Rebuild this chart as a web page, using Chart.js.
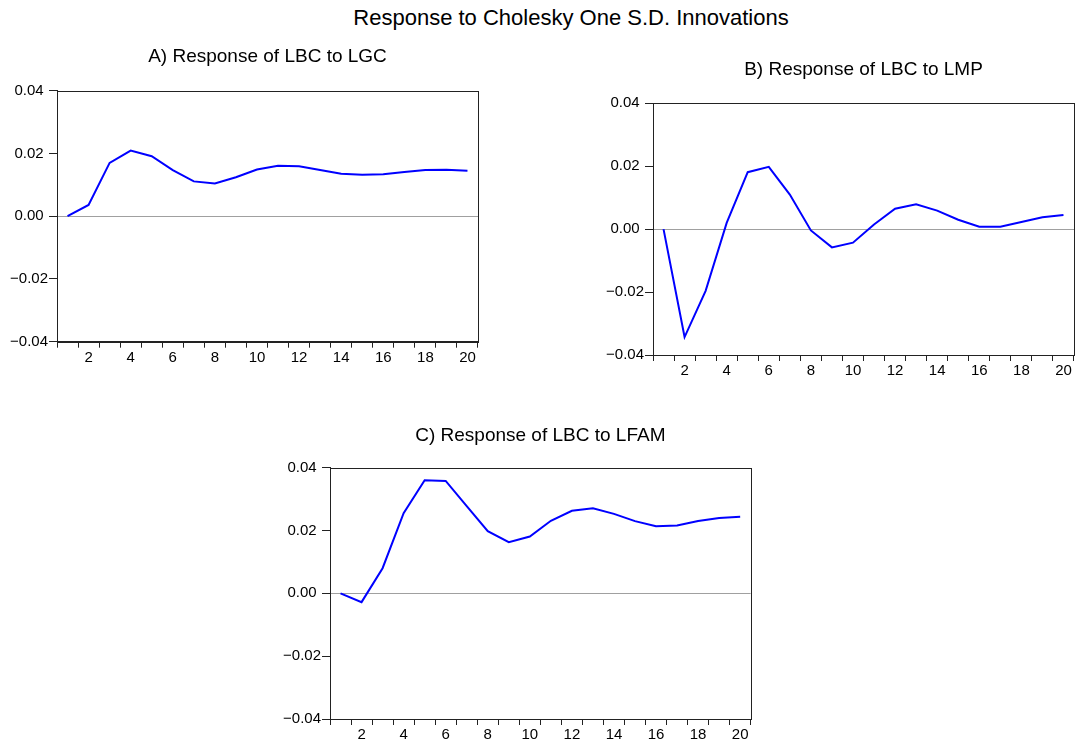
<!DOCTYPE html>
<html>
<head>
<meta charset="utf-8">
<script src="https://cdn.jsdelivr.net/npm/chart.js@4/dist/chart.umd.min.js"></script>
<style>
  html, body { margin: 0; padding: 0; background: #fff; }
  body { width: 1077px; height: 744px; position: relative; overflow: hidden; }
  #mainTitle {
    position: absolute; left: 0; top: 5px; width: 1142px; text-align: center;
    font: 22px "Liberation Sans", Arial, sans-serif; color: #000; line-height: 26px;
  }
  .box { position: absolute; }
</style>
</head>
<body>
<div id="mainTitle">Response to Cholesky One S.D. Innovations</div>
<div class="box" style="left:0px;top:30px;width:500px;height:345px;"><canvas id="cA"></canvas></div>
<div class="box" style="left:580px;top:45px;width:497px;height:340px;"><canvas id="cB"></canvas></div>
<div class="box" style="left:260px;top:410px;width:500px;height:334px;"><canvas id="cC"></canvas></div>
<script>
// Periods after the shock
const periods = [1, 2, 3, 4, 5, 6, 7, 8, 9, 10, 11, 12, 13, 14, 15, 16, 17, 18, 19, 20];

// Impulse responses of LBC
const respLGC = [0.0000, 0.0036, 0.0170, 0.0209, 0.0191, 0.0147, 0.0111, 0.0104, 0.0124, 0.0149,
                 0.0161, 0.0159, 0.0147, 0.0135, 0.0132, 0.0134, 0.0141, 0.0147, 0.0148, 0.0145];
const respLMP = [0.0000, -0.0343, -0.0196, 0.0020, 0.0181, 0.0198, 0.0110, -0.0004, -0.0058, -0.0043,
                 0.0015, 0.0065, 0.0079, 0.0059, 0.0030, 0.0008, 0.0008, 0.0023, 0.0038, 0.0045];
const respLFAM = [0.0000, -0.0028, 0.0080, 0.0255, 0.0360, 0.0358, 0.0278, 0.0198, 0.0163, 0.0181,
                  0.0231, 0.0263, 0.0271, 0.0253, 0.0230, 0.0214, 0.0216, 0.0230, 0.0240, 0.0244];

// Axis settings
const yTicks = [-0.04, -0.02, 0.00, 0.02, 0.04];
const xLabelStep = 2;

const FONT = '"Liberation Sans", Arial, sans-serif';

// Frame around the plotting area
const frame = {
  id: 'frame',
  afterDraw(chart) {
    const a = chart.chartArea, ctx = chart.ctx;
    ctx.save();
    ctx.strokeStyle = '#222';
    ctx.lineWidth = 1;
    ctx.strokeRect(Math.round(a.left) + 0.5, Math.round(a.top) + 0.5,
                   Math.round(a.right - a.left), Math.round(a.bottom - a.top));
    ctx.restore();
  }
};

function fmt(v) {
  const s = Math.abs(v).toFixed(2);
  return v < -1e-9 ? '\u2212' + s : s;
}

function makeChart(id, title, data, cfg) {
  return new Chart(document.getElementById(id), {
    type: 'line',
    data: {
      labels: periods.map(String),
      datasets: [{
        data: data,
        borderColor: '#0000ff',
        borderWidth: 2,
        pointRadius: 0,
        tension: 0,
        fill: false
      }]
    },
    options: {
      responsive: true,
      maintainAspectRatio: false,
      animation: false,
      events: [],
      layout: { padding: { top: cfg.padTop, right: cfg.padRight, left: 0, bottom: 0 } },
      plugins: {
        legend: { display: false },
        tooltip: { enabled: false },
        title: {
          display: true,
          text: title,
          fullSize: false,
          color: '#000',
          font: { family: FONT, size: 19, weight: 'normal', lineHeight: 1.2 },
          padding: { top: 0, bottom: cfg.titleGap }
        }
      },
      scales: {
        x: {
          type: 'category',
          offset: true,
          border: { display: true, color: '#222' },
          grid: {
            offset: true,
            drawOnChartArea: false,
            drawTicks: true,
            tickLength: 6,
            tickColor: '#222'
          },
          ticks: {
            autoSkip: false,
            maxRotation: 0,
            padding: 1,
            color: '#000',
            font: { family: FONT, size: 15 },
            callback: function (val, i) {
              const p = periods[i];
              return p % xLabelStep === 0 ? String(p) : '';
            }
          },
          afterFit(scale) { scale.height = cfg.xHeight; }
        },
        y: {
          min: yTicks[0],
          max: yTicks[yTicks.length - 1],
          border: { display: true, color: '#222' },
          grid: {
            drawTicks: true,
            tickLength: 8,
            tickColor: '#222',
            color: ctx => (ctx.tick && Math.abs(ctx.tick.value) < 1e-9) ? '#a0a0a0' : 'rgba(0,0,0,0)',
            lineWidth: 1
          },
          afterBuildTicks(scale) { scale.ticks = yTicks.map(v => ({ value: v })); },
          ticks: {
            crossAlign: 'center',
            padding: 1,
            color: '#000',
            font: { family: FONT, size: 15 },
            callback: v => fmt(v)
          },
          afterFit(scale) { scale.width = cfg.yWidth; }
        }
      }
    },
    plugins: [frame]
  });
}

makeChart('cA', 'A) Response of LBC to LGC', respLGC,
  { padTop: 15.6, titleGap: 22.3, padRight: 22, xHeight: 33.3, yWidth: 57 });
makeChart('cB', 'B) Response of LBC to LMP', respLMP,
  { padTop: 13.6, titleGap: 21.9, padRight: 3, xHeight: 30, yWidth: 73 });
makeChart('cC', 'C) Response of LBC to LFAM', respLFAM,
  { padTop: 14.6, titleGap: 20.3, padRight: 9.3, xHeight: 25, yWidth: 70 });
</script>
</body>
</html>
